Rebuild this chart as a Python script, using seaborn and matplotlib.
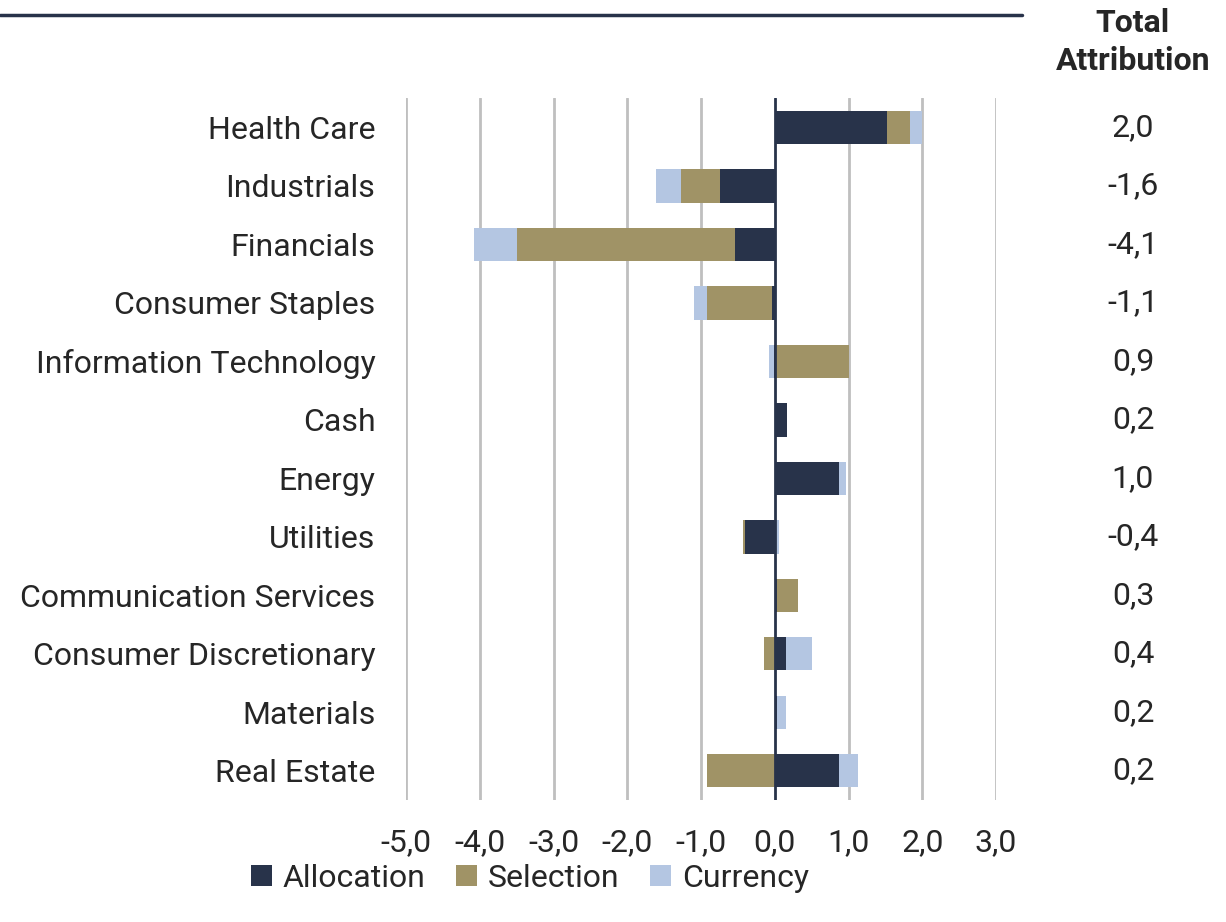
import numpy as np
import pandas as pd
import matplotlib
matplotlib.use("Agg")
import matplotlib.pyplot as plt
import matplotlib.transforms as mtransforms
from matplotlib.patches import Patch
import seaborn as sns

sectors = ["Health Care", "Industrials", "Financials", "Consumer Staples",
           "Information Technology", "Cash", "Energy", "Utilities",
           "Communication Services", "Consumer Discretionary", "Materials",
           "Real Estate"]
allocation = [1.52, -0.74, -0.54, -0.04, -0.01, 0.16, 0.87, -0.40, 0.03, 0.15, 0.03, 0.87]
selection = [0.31, -0.53, -2.95, -0.88, 1.01, 0.0, 0.0, -0.03, 0.28, -0.14, 0.0, -0.92]
currency = [0.16, -0.34, -0.59, -0.18, -0.07, 0.0, 0.09, 0.06, 0.0, 0.35, 0.12, 0.26]
totals = ["2,0", "-1,6", "-4,1", "-1,1", "0,9", "0,2", "1,0", "-0,4", "0,3", "0,4", "0,2", "0,2"]
xticks = [-5, -4, -3, -2, -1, 0, 1, 2, 3]
series_names = ["Allocation", "Selection", "Currency"]
colors = {"Allocation": "#28334a", "Selection": "#a09366", "Currency": "#b4c6e2"}

sns.set_theme(style="white")
plt.rcParams["font.family"] = ["Roboto", "DejaVu Sans"]
text_color = "#262626"
fs = 23

fig = plt.figure(figsize=(12.26, 9.22), dpi=100)
ax = fig.add_axes([0.3312, 0.1323, 0.8124 - 0.3312, 0.8935 - 0.1323])

df = pd.DataFrame({"Sector": sectors, "Allocation": allocation,
                   "Selection": selection, "Currency": currency})
pos = np.arange(len(sectors))
pos_base = np.zeros(len(sectors))
neg_base = np.zeros(len(sectors))
bar_h = 0.57
for name in series_names:
    vals = df[name].to_numpy(dtype=float)
    left = np.where(vals >= 0, pos_base, neg_base)
    ax.barh(pos, vals, left=left, height=bar_h, color=colors[name],
            linewidth=0, zorder=2)
    pos_base = pos_base + np.where(vals >= 0, vals, 0)
    neg_base = neg_base + np.where(vals < 0, vals, 0)

ax.set_xlim(-5, 3)
ax.set_ylim(len(sectors) - 0.5, -0.5)
ax.set_yticks(pos)
ax.set_yticklabels(sectors, fontsize=fs, color=text_color)
ax.set_xticks(xticks)
ax.set_xticklabels([f"{v:.1f}".replace(".", ",") for v in xticks], fontsize=fs, color=text_color)
ax.tick_params(axis="y", length=0, pad=22)
ax.tick_params(axis="x", length=0, pad=20)
for s in ax.spines.values():
    s.set_visible(False)
ax.grid(False)
for xv in xticks:
    if xv != 0:
        ax.axvline(xv, color="#bfbfbf", lw=2, zorder=1)
ax.axvline(0, color="#28334a", lw=2, zorder=4)
ax.set_xlabel("")
ax.set_ylabel("")

# Total attribution column
trans = mtransforms.blended_transform_factory(fig.transFigure, ax.transData)
for i, t in enumerate(totals):
    ax.text(1133 / 1226, i, t, transform=trans, ha="center", va="center",
            fontsize=fs, color=text_color)
fig.text(1133 / 1226, 1 - 23 / 922, "Total", ha="center", va="center",
         fontsize=fs, fontweight="bold", color=text_color)
fig.text(1133 / 1226, 1 - 61 / 922, "Attribution", ha="center", va="center",
         fontsize=fs, fontweight="bold", color=text_color)

# Top rule
fig.add_artist(plt.Line2D([0, 1022 / 1226], [1 - 15 / 922, 1 - 15 / 922],
                          transform=fig.transFigure, color="#28334a", lw=2.5))

handles = [Patch(facecolor=colors[n], edgecolor="none", label=n) for n in series_names]
fig.legend(handles=handles, loc="center", bbox_to_anchor=(530 / 1226, 1 - 878 / 922),
           ncol=3, frameon=False, fontsize=fs, handlelength=0.65, handleheight=0.65,
           handletextpad=0.35, columnspacing=0.95, labelcolor=text_color)

fig.savefig("out.png", dpi=100)
